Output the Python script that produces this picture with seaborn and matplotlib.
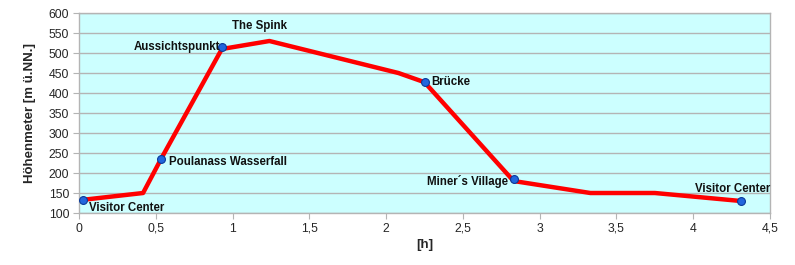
import matplotlib
matplotlib.use("Agg")
import matplotlib.pyplot as plt
import seaborn as sns
import pandas as pd

# Route profile (line)
route_h = [0.026, 0.417, 0.534, 0.93, 1.24, 2.08, 2.25, 2.83, 3.33, 3.75, 4.31]
route_m = [133, 150, 235, 510, 530, 450, 427, 180, 150, 150, 130]

# Waypoints (markers)
wp_names = ["Visitor Center", "Poulanass Wasserfall", "Aussichtspunkt", "Brücke", "Miner´s Village", "Visitor Center"]
wp_h = [0.026, 0.534, 0.93, 2.25, 2.83, 4.31]
wp_m = [133, 235, 515, 427, 185, 130]

peak_name = "The Spink"
peak_h = 1.24
peak_m = 530

x_ticks = [0, 0.5, 1, 1.5, 2, 2.5, 3, 3.5, 4, 4.5]
x_tick_labels = ["0", "0,5", "1", "1,5", "2", "2,5", "3", "3,5", "4", "4,5"]
y_ticks = [100, 150, 200, 250, 300, 350, 400, 450, 500, 550, 600]

sns.set_style("white")
plt.rcParams["font.family"] = ["Liberation Sans", "DejaVu Sans"]

fig = plt.figure(figsize=(7.95, 2.65), dpi=100)
ax = fig.add_axes([0.0994, 0.1962, 0.9686 - 0.0994, 0.9509 - 0.1962])
ax.set_facecolor("#CCFFFF")

route = pd.DataFrame({"h": route_h, "m": route_m})
wps = pd.DataFrame({"h": wp_h, "m": wp_m, "name": wp_names})

sns.lineplot(data=route, x="h", y="m", ax=ax, color="#FF0000", linewidth=3.2,
             sort=False, zorder=3)
sns.scatterplot(data=wps, x="h", y="m", ax=ax, color="#2266DD", s=32,
                edgecolor="#0A3A9A", linewidth=0.8, zorder=4)

ax.set_xlim(0, 4.5)
ax.set_ylim(100, 600)
ax.set_xticks(x_ticks)
ax.set_xticklabels(x_tick_labels)
ax.set_yticks(y_ticks)
ax.grid(axis="y", color="#B4B4B4", linewidth=1)
ax.set_axisbelow(True)
for s in ax.spines.values():
    s.set_color("#B4B4B4")
    s.set_linewidth(1)
ax.tick_params(axis="both", length=4, color="#B4B4B4", labelsize=8.8, pad=3,
               direction="out", bottom=True, left=True)
ax.set_xlabel("[h]", fontsize=9.5, fontweight="bold", labelpad=3)
ax.set_ylabel("Höhenmeter [m ü.NN.]", fontsize=9.5, fontweight="bold", labelpad=9)

lab_kw = dict(fontsize=8.3, fontweight="bold", color="#111111", zorder=5)
offsets = [(4, -6, "left", "center"),
           (6, -2, "left", "center"),
           (-1, 0, "right", "center"),
           (5, 0, "left", "center"),
           (-4, -2, "right", "center")]
for (dx, dy, ha, va), name, hx, my in zip(offsets, wp_names[:-1], wp_h[:-1], wp_m[:-1]):
    ax.annotate(name, (hx, my), xytext=(dx, dy), textcoords="offset points",
                ha=ha, va=va, **lab_kw)
# last label ends at the right edge of the plot area
ax.annotate(wp_names[-1], (4.5, wp_m[-1]), xytext=(0, 9), textcoords="offset points",
            ha="right", va="center", **lab_kw)
ax.annotate(peak_name, (peak_h, peak_m), xytext=(-7, 11), textcoords="offset points",
            ha="center", va="center", **lab_kw)
fig.savefig("out.png", dpi=100)
